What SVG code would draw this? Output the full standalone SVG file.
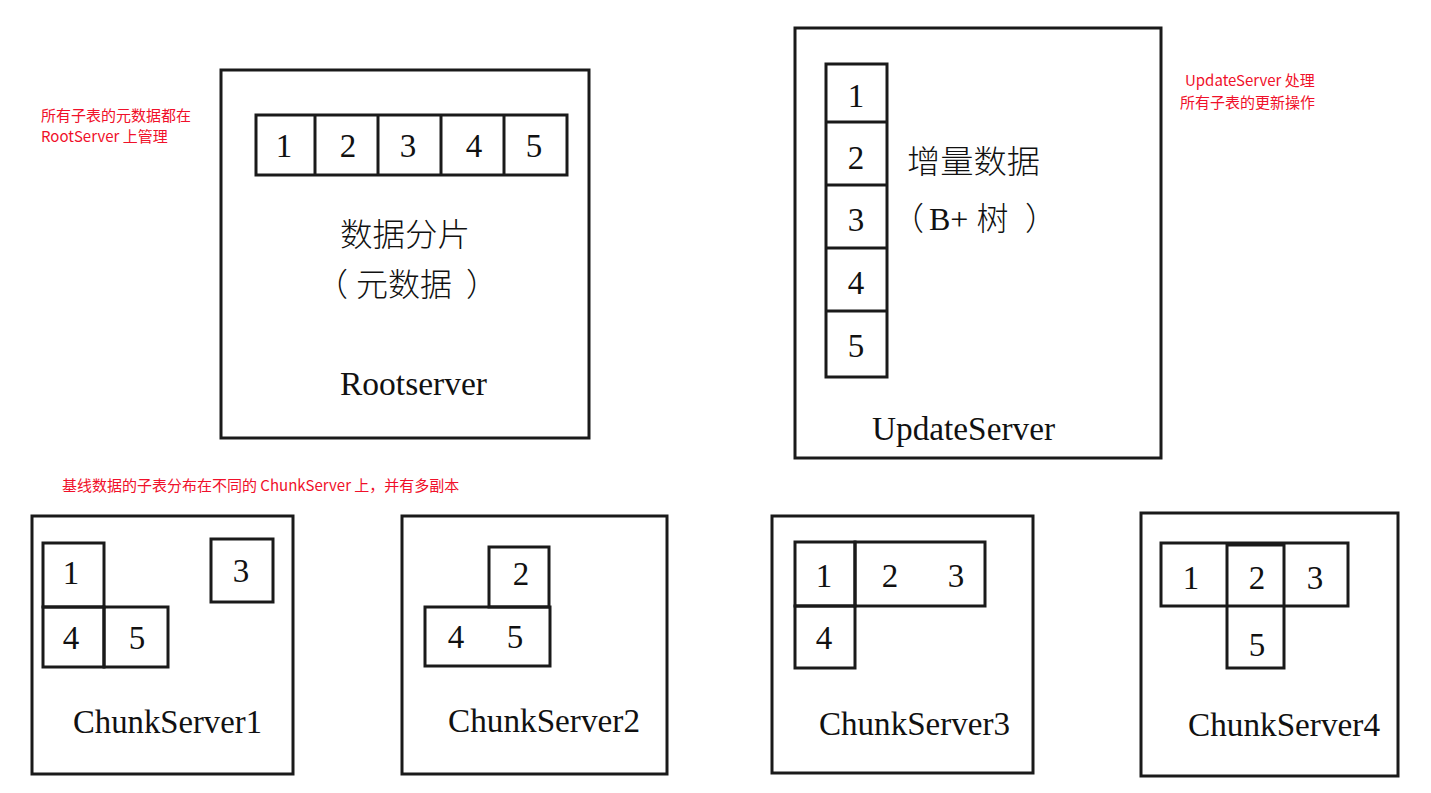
<svg xmlns="http://www.w3.org/2000/svg" width="1431" height="793" viewBox="0 0 1431 793">
<style>
.box{fill:none;stroke:#1a1a1a;stroke-width:3}
.cell{fill:none;stroke:#1a1a1a;stroke-width:3}
.d{font-family:"Liberation Serif","Noto Sans CJK SC",serif;font-size:33px;fill:#111;text-anchor:middle}
.lbl{font-family:"Liberation Serif","Noto Sans CJK SC",serif;font-size:33px;fill:#111}
.cjk{font-family:"Liberation Serif","Noto Sans CJK SC",serif;font-size:32px;fill:#111;font-weight:300}
.note{font-family:"Noto Sans CJK SC","Liberation Sans",sans-serif;font-size:15px;fill:#f0102a}
</style>
<rect width="1431" height="793" fill="#fff"/>
<g id="connectors"/>

<g id="notes">
<text class="note" x="41" y="121">所有子表的元数据都在</text>
<text class="note" x="41" y="142">RootServer 上管理</text>
<text class="note" x="1185" y="86">UpdateServer 处理</text>
<text class="note" x="1180" y="108">所有子表的更新操作</text>
<text class="note" x="62" y="491">基线数据的子表分布在不同的 ChunkServer 上，并有多副本</text>
</g>

<g id="rootserver">
<rect class="box" x="221" y="70" width="368" height="368"/>
<rect class="cell" x="256" y="115" width="311" height="60"/>
<line class="cell" x1="315" y1="115" x2="315" y2="175"/>
<line class="cell" x1="378" y1="115" x2="378" y2="175"/>
<line class="cell" x1="441" y1="115" x2="441" y2="175"/>
<line class="cell" x1="504" y1="115" x2="504" y2="175"/>
<text class="d" x="284" y="157">1</text>
<text class="d" x="348" y="157">2</text>
<text class="d" x="408" y="157">3</text>
<text class="d" x="474" y="157">4</text>
<text class="d" x="534" y="157">5</text>
<text class="cjk" x="340" y="246" textLength="130" lengthAdjust="spacingAndGlyphs">数据分片</text>
<text class="cjk" y="296"><tspan x="316">（</tspan><tspan x="356">元数据</tspan><tspan x="466">）</tspan></text>
<text class="lbl" x="340" y="395" textLength="147" lengthAdjust="spacingAndGlyphs">Rootserver</text>
</g>

<g id="updateserver">
<rect class="box" x="795" y="28" width="366" height="430"/>
<rect class="cell" x="826" y="64" width="61" height="313"/>
<line class="cell" x1="826" y1="122" x2="887" y2="122"/>
<line class="cell" x1="826" y1="185" x2="887" y2="185"/>
<line class="cell" x1="826" y1="248" x2="887" y2="248"/>
<line class="cell" x1="826" y1="311" x2="887" y2="311"/>
<text class="d" x="856" y="107">1</text>
<text class="d" x="856" y="169">2</text>
<text class="d" x="856" y="231">3</text>
<text class="d" x="856" y="294">4</text>
<text class="d" x="856" y="357">5</text>
<text class="cjk" x="907" y="173" textLength="133" lengthAdjust="spacingAndGlyphs">增量数据</text>
<text class="cjk" y="230"><tspan x="892">（</tspan><tspan x="929">B+ 树</tspan><tspan x="1025">）</tspan></text>
<text class="lbl" x="872" y="440" textLength="183" lengthAdjust="spacingAndGlyphs">UpdateServer</text>
</g>

<g id="chunkserver1">
<rect class="box" x="32" y="516" width="261" height="258"/>
<rect class="cell" x="43" y="543" width="61" height="64"/>
<rect class="cell" x="43" y="607" width="61" height="60"/>
<rect class="cell" x="104" y="607" width="64" height="60"/>
<rect class="cell" x="211" y="539" width="62" height="63"/>
<text class="d" x="71" y="584">1</text>
<text class="d" x="71" y="649">4</text>
<text class="d" x="137" y="649">5</text>
<text class="d" x="241" y="582">3</text>
<text class="lbl" x="73" y="733" textLength="189" lengthAdjust="spacingAndGlyphs">ChunkServer1</text>
</g>

<g id="chunkserver2">
<rect class="box" x="402" y="516" width="265" height="258"/>
<rect class="cell" x="489" y="547" width="60" height="60"/>
<rect class="cell" x="425" y="607" width="125" height="59"/>
<text class="d" x="521" y="585">2</text>
<text class="d" x="456" y="648">4</text>
<text class="d" x="515" y="648">5</text>
<text class="lbl" x="448" y="732" textLength="192" lengthAdjust="spacingAndGlyphs">ChunkServer2</text>
</g>

<g id="chunkserver3">
<rect class="box" x="772" y="516" width="261" height="257"/>
<rect class="cell" x="795" y="542" width="60" height="64"/>
<rect class="cell" x="855" y="542" width="130" height="64"/>
<rect class="cell" x="795" y="606" width="60" height="62"/>
<text class="d" x="824" y="587">1</text>
<text class="d" x="890" y="587">2</text>
<text class="d" x="956" y="587">3</text>
<text class="d" x="824" y="649">4</text>
<text class="lbl" x="819" y="735" textLength="191" lengthAdjust="spacingAndGlyphs">ChunkServer3</text>
</g>

<g id="chunkserver4">
<rect class="box" x="1141" y="513" width="257" height="263"/>
<rect class="cell" x="1161" y="543" width="187" height="63"/>
<rect class="cell" x="1227" y="545" width="57" height="123"/>
<text class="d" x="1191" y="589">1</text>
<text class="d" x="1257" y="589">2</text>
<text class="d" x="1315" y="589">3</text>
<text class="d" x="1257" y="656">5</text>
<text class="lbl" x="1188" y="736" textLength="192" lengthAdjust="spacingAndGlyphs">ChunkServer4</text>
</g>
</svg>
